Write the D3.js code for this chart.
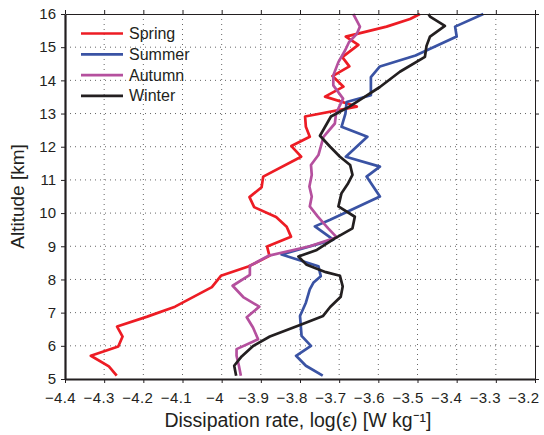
<!DOCTYPE html>
<html><head><meta charset="utf-8">
<script src="https://cdn.jsdelivr.net/npm/d3@7"></script>
<style>body{margin:0;background:#fff}svg{display:block}text{font-family:"Liberation Sans",Arial,sans-serif;fill:#231f20}</style>
</head><body>
<svg id="c" width="544" height="435"></svg>
<script>
// [altitude km, log dissipation]
const spring = [[5.1,-4.268],[5.38,-4.288],[5.70,-4.334],[5.98,-4.264],[6.28,-4.253],[6.58,-4.267],[6.88,-4.19],[7.18,-4.119],[7.77,-4.025],[8.11,-4.002],[8.39,-3.932],[8.71,-3.878],[8.99,-3.884],[9.29,-3.823],[9.59,-3.834],[9.88,-3.861],[10.18,-3.917],[10.48,-3.929],[10.78,-3.898],[11.10,-3.894],[11.70,-3.797],[12.02,-3.822],[12.30,-3.775],[12.6,-3.785],[12.91,-3.787],[13.21,-3.655],[13.51,-3.736],[13.81,-3.689],[14.13,-3.717],[14.42,-3.674],[14.7,-3.692],[15.07,-3.651],[15.32,-3.683],[15.62,-3.579],[15.85,-3.519],[16.0,-3.494]];
const summer = [[5.1,-3.742],[5.4,-3.785],[5.7,-3.81],[6.0,-3.772],[6.3,-3.796],[6.9,-3.80],[7.3,-3.785],[7.7,-3.775],[7.9,-3.766],[8.1,-3.747],[8.4,-3.753],[8.75,-3.847],[9.2,-3.715],[9.6,-3.762],[9.8,-3.723],[10.5,-3.596],[11.1,-3.630],[11.4,-3.596],[11.7,-3.683],[12.3,-3.628],[12.6,-3.694],[13.0,-3.684],[13.35,-3.681],[13.55,-3.619],[14.1,-3.619],[14.42,-3.596],[14.75,-3.505],[15.32,-3.400],[15.62,-3.404],[16.0,-3.332]];
const autumn = [[5.1,-3.951],[5.4,-3.956],[5.7,-3.962],[5.9,-3.962],[6.2,-3.907],[6.55,-3.92],[6.86,-3.936],[7.18,-3.904],[7.47,-3.945],[7.81,-3.972],[8.14,-3.928],[8.41,-3.928],[8.72,-3.879],[9.0,-3.775],[9.27,-3.706],[9.54,-3.728],[9.9,-3.755],[10.2,-3.775],[10.5,-3.770],[10.8,-3.776],[11.15,-3.770],[11.45,-3.772],[11.75,-3.753],[12.3,-3.74],[12.7,-3.711],[13.0,-3.708],[13.45,-3.690],[13.85,-3.715],[14.15,-3.715],[14.55,-3.702],[14.9,-3.685],[15.15,-3.675],[15.4,-3.655],[15.62,-3.647],[15.8,-3.655],[16.0,-3.664]];
const winter = [[5.1,-3.963],[5.4,-3.968],[5.68,-3.949],[6.0,-3.919],[6.28,-3.877],[6.63,-3.80],[6.9,-3.741],[7.17,-3.723],[7.48,-3.696],[7.79,-3.691],[8.11,-3.698],[8.22,-3.734],[8.44,-3.783],[8.69,-3.804],[8.89,-3.757],[9.24,-3.711],[9.54,-3.666],[9.89,-3.660],[10.2,-3.702],[10.6,-3.694],[10.9,-3.677],[11.15,-3.666],[11.45,-3.672],[11.7,-3.698],[12.0,-3.723],[12.33,-3.749],[12.91,-3.721],[13.2,-3.675],[13.5,-3.635],[13.8,-3.596],[14.26,-3.545],[14.71,-3.481],[15.04,-3.477],[15.32,-3.468],[15.64,-3.430],[15.92,-3.468],[16.0,-3.472]];
const seriesNames = ["Spring","Summer","Autumn","Winter"];
const seriesColors = ["#ed1c24","#3a53a4","#b5509e","#231f20"];
const xTicks = [-4.4,-4.3,-4.2,-4.1,-4,-3.9,-3.8,-3.7,-3.6,-3.5,-3.4,-3.3,-3.2];
const yTicks = [5,6,7,8,9,10,11,12,13,14,15,16];
const xTitle = "Dissipation rate, log(ε) [W kg⁻¹]";
const yTitle = "Altitude [km]";

const svg = d3.select("#c");
const L=65, R=535, T=14, B=379;
const x = d3.scaleLinear().domain([-4.4,-3.2]).range([L,R]);
const y = d3.scaleLinear().domain([5,16]).range([B,T]);
const fmt = v => (v<0?"\u2212":"") + d3.format("")(Math.abs(+v.toFixed(1)));

// grid
const g = svg.append("g");
g.selectAll(".vg").data(xTicks.slice(1,-1)).join("line")
 .attr("x1",d=>x(d)).attr("x2",d=>x(d)).attr("y1",T).attr("y2",B)
 .attr("stroke","#666").attr("stroke-width",1).attr("stroke-dasharray","1,4");
g.selectAll(".hg").data(yTicks.slice(1,-1)).join("line")
 .attr("y1",d=>y(d)).attr("y2",d=>y(d)).attr("x1",L).attr("x2",R)
 .attr("stroke","#666").attr("stroke-width",1).attr("stroke-dasharray","1,4");

// lines
const line = d3.line().x(d=>x(d[1])).y(d=>y(d[0]));
[spring,summer,autumn,winter].forEach((s,i)=>{
  svg.append("path").datum(s).attr("d",line).attr("fill","none")
   .attr("stroke",seriesColors[i]).attr("stroke-width",2.7).attr("stroke-linejoin","round");
});

// axes
const ax = (gen, tr) => {
  const a = svg.append("g").attr("transform",tr).call(gen);
  a.select(".domain").attr("stroke","#231f20");
  a.selectAll(".tick line").attr("stroke","#231f20");
  return a;
};
const bx = ax(d3.axisBottom(x).tickValues(xTicks).tickFormat(fmt).tickSize(4).tickPadding(9).tickSizeOuter(0), `translate(0,${B})`);
bx.select(".domain").attr("stroke-width",2.2);
bx.selectAll("text").attr("font-size",15).attr("fill","#231f20").attr("letter-spacing","0.4px")
  .attr("x",(d,i)=>-5 - i*0.55)
  .style("font-family","'Liberation Sans',Arial,sans-serif");
const tx = ax(d3.axisTop(x).tickValues(xTicks).tickFormat("").tickSize(4).tickSizeOuter(0), `translate(0,${T})`);
const ly = ax(d3.axisLeft(y).tickValues(yTicks).tickSize(4).tickPadding(5).tickSizeOuter(0), `translate(${L},0)`);
ly.select(".domain").attr("stroke-width",2.2);
ly.selectAll("text").attr("font-size",15).attr("fill","#231f20")
  .style("font-family","'Liberation Sans',Arial,sans-serif");
const ry = ax(d3.axisRight(y).tickValues(yTicks).tickFormat("").tickSize(4).tickSizeOuter(0), `translate(${R},0)`);

// titles
svg.append("text").attr("x",298).attr("y",427).attr("text-anchor","middle")
 .attr("font-size",19.5).text(xTitle);
svg.append("text").attr("transform",`translate(24,${(T+B)/2}) rotate(-90)`).attr("text-anchor","middle")
 .attr("font-size",19).text(yTitle);

// legend
const lg = svg.append("g");
seriesNames.forEach((n,i)=>{
  const yy = 33.5 + i*20.8;
  lg.append("line").attr("x1",81).attr("x2",123).attr("y1",yy).attr("y2",yy)
   .attr("stroke",seriesColors[i]).attr("stroke-width",2.7);
  lg.append("text").attr("x",129).attr("y",yy+5.5).attr("font-size",16).text(n);
});
</script>
</body></html>
